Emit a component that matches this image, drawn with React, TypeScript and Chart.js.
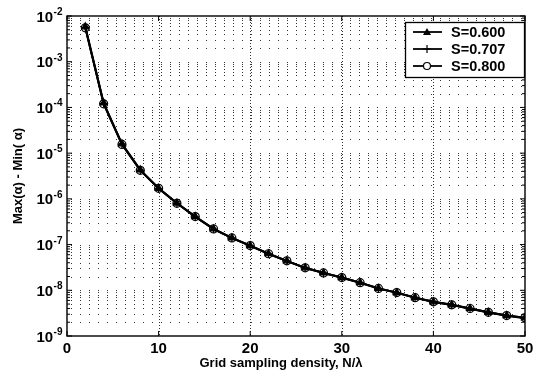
import React, { useEffect, useRef } from 'react';
import { Chart, registerables } from 'chart.js';

Chart.register(...registerables);

const nSamples = [2, 4, 6, 8, 10, 12, 14, 16, 18, 20, 22, 24, 26, 28, 30, 32, 34, 36, 38, 40, 42, 44, 46, 48, 50];
const s600 = [5.8e-3, 1.25e-4, 1.6e-5, 4.3e-6, 1.7e-6, 8.1e-7, 4.1e-7, 2.2e-7, 1.4e-7, 9.5e-8, 6.3e-8, 4.4e-8, 3.1e-8, 2.4e-8, 1.9e-8, 1.47e-8, 1.1e-8, 8.9e-9, 6.9e-9, 5.6e-9, 4.8e-9, 4.0e-9, 3.3e-9, 2.8e-9, 2.5e-9];
const s707 = [5.6e-3, 1.22e-4, 1.57e-5, 4.25e-6, 1.68e-6, 8.0e-7, 4.05e-7, 2.18e-7, 1.39e-7, 9.4e-8, 6.25e-8, 4.35e-8, 3.08e-8, 2.38e-8, 1.88e-8, 1.46e-8, 1.09e-8, 8.8e-9, 6.85e-9, 5.55e-9, 4.75e-9, 3.95e-9, 3.28e-9, 2.78e-9, 2.45e-9];
const s800 = [5.5e-3, 1.2e-4, 1.55e-5, 4.2e-6, 1.7e-6, 8.0e-7, 4.1e-7, 2.2e-7, 1.4e-7, 9.5e-8, 6.3e-8, 4.4e-8, 3.1e-8, 2.4e-8, 1.9e-8, 1.47e-8, 1.1e-8, 8.9e-9, 6.9e-9, 5.6e-9, 4.8e-9, 4.0e-9, 3.3e-9, 2.8e-9, 2.5e-9];
const seriesLabels = ['S=0.600', 'S=0.707', 'S=0.800'];
const xTicks = [0, 10, 20, 30, 40, 50];
const yDecadeExponents = [-9, -8, -7, -6, -5, -4, -3, -2];
const xTitle = 'Grid sampling density, N/λ';
const yTitle = 'Max(α) - Min( α)';

const FONT = '"Liberation Sans", Arial, Helvetica, sans-serif';

function drawMarker(ctx: CanvasRenderingContext2D, style: string, x: number, y: number) {
  ctx.save();
  ctx.strokeStyle = '#000';
  ctx.fillStyle = '#000';
  ctx.lineWidth = 1.2;
  ctx.beginPath();
  if (style === 'triangle') {
    ctx.moveTo(x, y - 4);
    ctx.lineTo(x + 4, y + 3);
    ctx.lineTo(x - 4, y + 3);
    ctx.closePath();
    ctx.fill();
  } else if (style === 'cross') {
    ctx.moveTo(x - 4, y);
    ctx.lineTo(x + 4, y);
    ctx.moveTo(x, y - 4);
    ctx.lineTo(x, y + 4);
    ctx.stroke();
  } else {
    ctx.arc(x, y, 3.5, 0, Math.PI * 2);
    ctx.fillStyle = '#fff';
    ctx.fill();
    ctx.stroke();
  }
  ctx.restore();
}

const markerStyles = ['triangle', 'cross', 'circle'];

const framePlugin = {
  id: 'frame',
  beforeDatasetsDraw(chart: any) {
    const { ctx, chartArea: a, scales } = chart;
    const xs = scales.x;
    const ys = scales.y;
    ctx.save();
    ctx.strokeStyle = 'rgba(0,0,0,0.8)';
    ctx.lineWidth = 1;
    ctx.setLineDash([1, 8]);
    for (const e of yDecadeExponents) {
      for (let m = 1; m <= 9; m++) {
        if (e === -2 && m > 1) break;
        const v = m * Math.pow(10, e);
        const y = Math.round(ys.getPixelForValue(v)) + 0.5;
        if (y <= a.top + 1 || y >= a.bottom - 1) continue;
        ctx.beginPath();
        ctx.moveTo(a.left + 4, y);
        ctx.lineTo(a.right, y);
        ctx.stroke();
      }
    }
    ctx.setLineDash([1, 2]);
    for (const t of xTicks) {
      const x = Math.round(xs.getPixelForValue(t)) + 0.5;
      if (x <= a.left + 1 || x >= a.right - 1) continue;
      ctx.beginPath();
      ctx.moveTo(x, a.top);
      ctx.lineTo(x, a.bottom);
      ctx.stroke();
    }
    ctx.restore();
  },
  afterDraw(chart: any) {
    const { ctx, chartArea: a, scales } = chart;
    const xs = scales.x;
    const ys = scales.y;
    ctx.save();
    ctx.strokeStyle = '#000';
    ctx.lineWidth = 1.4;
    ctx.setLineDash([]);
    ctx.strokeRect(a.left, a.top, a.right - a.left, a.bottom - a.top);
    ctx.lineWidth = 1;
    for (const t of xTicks) {
      const x = xs.getPixelForValue(t);
      ctx.beginPath();
      ctx.moveTo(x, a.bottom);
      ctx.lineTo(x, a.bottom - 5);
      ctx.moveTo(x, a.top);
      ctx.lineTo(x, a.top + 5);
      ctx.stroke();
    }
    for (const e of yDecadeExponents) {
      for (let m = 1; m <= 9; m++) {
        if (e === -2 && m > 1) break;
        const y = ys.getPixelForValue(m * Math.pow(10, e));
        const len = m === 1 ? 5 : 3;
        ctx.beginPath();
        ctx.moveTo(a.left, y);
        ctx.lineTo(a.left + len, y);
        ctx.moveTo(a.right, y);
        ctx.lineTo(a.right - len, y);
        ctx.stroke();
      }
    }
    // y tick labels with superscript exponents
    ctx.fillStyle = '#000';
    ctx.textBaseline = 'alphabetic';
    for (const e of yDecadeExponents) {
      const y = ys.getPixelForValue(Math.pow(10, e));
      const expText = String(e);
      ctx.font = `bold 10px ${FONT}`;
      const ew = ctx.measureText(expText).width;
      ctx.font = `bold 15px ${FONT}`;
      const bw = ctx.measureText('10').width;
      const right = a.left - 5;
      const x0 = right - ew - bw;
      ctx.textAlign = 'left';
      ctx.fillText('10', x0, y + 5.5);
      ctx.font = `bold 10px ${FONT}`;
      ctx.fillText(expText, x0 + bw + 0.5, y - 1);
    }
    // x title
    ctx.font = `bold 13px ${FONT}`;
    ctx.textAlign = 'center';
    ctx.textBaseline = 'middle';
    ctx.fillText(xTitle, 281, 363);
    // legend
    const lx = 405, ly = 22, lw = 119, lh = 55;
    ctx.fillStyle = '#fff';
    ctx.fillRect(lx, ly, lw, lh);
    ctx.strokeStyle = '#000';
    ctx.lineWidth = 1.3;
    ctx.strokeRect(lx + 0.5, ly + 0.5, lw, lh);
    for (let i = 0; i < seriesLabels.length; i++) {
      const ry = ly + 10 + i * 17;
      ctx.strokeStyle = '#000';
      ctx.lineWidth = 1.8;
      ctx.beginPath();
      ctx.moveTo(lx + 8, ry);
      ctx.lineTo(lx + 37, ry);
      ctx.stroke();
      drawMarker(ctx, markerStyles[i], lx + 22, ry);
      ctx.fillStyle = '#000';
      ctx.font = `bold 14.5px ${FONT}`;
      ctx.textAlign = 'left';
      ctx.textBaseline = 'middle';
      ctx.fillText(seriesLabels[i], lx + 46, ry + 1);
    }
    ctx.restore();
  },
};

export default function App() {
  const ref = useRef<HTMLCanvasElement>(null);
  useEffect(() => {
    if (!ref.current) return;
    const mk = (label: string, data: number[], style: string, order: number) => ({
      label,
      data: nSamples.map((x, i) => ({ x, y: data[i] })),
      borderColor: '#000',
      backgroundColor: style === 'circle' ? 'rgba(255,255,255,0)' : '#000',
      borderWidth: 2,
      pointStyle: style as any,
      pointRadius: 4,
      pointBorderWidth: 1.2,
      pointBorderColor: '#000',
      pointBackgroundColor: style === 'circle' ? 'rgba(255,255,255,0)' : '#000',
      tension: 0,
      order,
    });
    const chart = new Chart(ref.current, {
      type: 'line',
      data: {
        datasets: [
          mk(seriesLabels[0], s600, 'triangle', 2),
          mk(seriesLabels[1], s707, 'cross', 1),
          mk(seriesLabels[2], s800, 'circle', 0),
        ],
      },
      options: {
        animation: false,
        responsive: true,
        maintainAspectRatio: false,
        layout: { padding: { left: 0, right: 16, top: 16, bottom: 0 } },
        plugins: { legend: { display: false }, tooltip: { enabled: false } },
        scales: {
          x: {
            type: 'linear',
            min: 0,
            max: 50,
            afterBuildTicks: (s: any) => {
              s.ticks = xTicks.map((v) => ({ value: v }));
            },
            afterFit: (s: any) => {
              s.height = 36;
            },
            grid: { display: false, drawTicks: false },
            border: { display: false },
            ticks: {
              color: '#000',
              padding: 4,
              font: { family: FONT, size: 15, weight: 'bold' },
              maxRotation: 0,
            },
          },
          y: {
            type: 'logarithmic',
            min: 1e-9,
            max: 1e-2,
            afterFit: (s: any) => {
              s.width = 67;
            },
            grid: { display: false, drawTicks: false },
            border: { display: false },
            ticks: { display: false },
            title: {
              display: true,
              text: yTitle,
              color: '#000',
              font: { family: FONT, size: 13, weight: 'bold' },
              padding: { top: 11, bottom: 0 },
            },
          },
        },
      },
      plugins: [framePlugin],
    });
    return () => chart.destroy();
  }, []);
  return (
    <div style={{ position: 'fixed', left: 0, top: 0, width: 541, height: 372, background: '#fff' }}>
      <canvas ref={ref} />
    </div>
  );
}
